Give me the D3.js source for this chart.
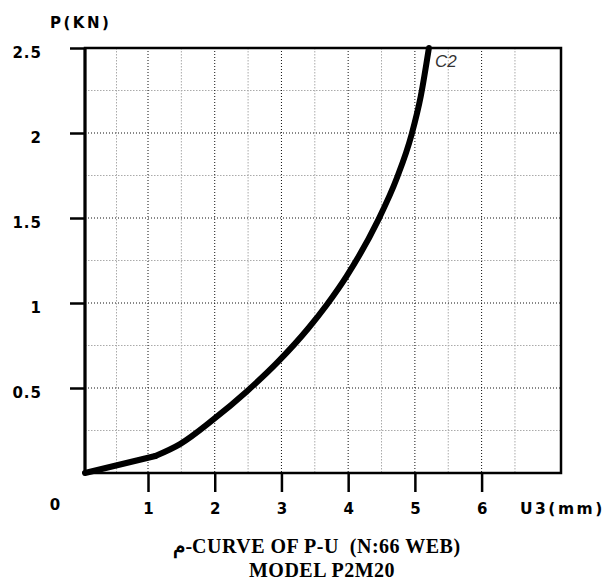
<!DOCTYPE html>
<html>
<head>
<meta charset="utf-8">
<script src="https://cdn.jsdelivr.net/npm/d3@7"></script>
<style>
  body { margin: 0; background: #fff; }
  svg { display: block; }
</style>
</head>
<body>
<script>
// data
var u3 = [0, 1.11, 1.48, 1.98, 2.48, 2.95, 3.40, 3.68, 3.98, 4.44, 4.73, 4.95, 5.09, 5.21];
var pKN = [0, 0.1, 0.17, 0.315, 0.48, 0.655, 0.85, 0.99, 1.16, 1.48, 1.735, 1.99, 2.22, 2.5];
var xTicks = [1, 2, 3, 4, 5, 6];
var xMinor = [0.5, 1.5, 2.5, 3.5, 4.5, 5.5, 6.5];
var yTicks = [0.5, 1, 1.5, 2, 2.5];
var yMinor = [0.25, 0.75, 1.25, 1.75, 2.25];
var yLabels = ["0.5", "1", "1.5", "2", "2.5"];
var seriesName = "C2";
var titleLines = ["\u0645-CURVE OF P-U  (N:66 WEB)", "MODEL P2M20"];

//Set some initial values
var W = 608, H = 581;
var margin = {left: 85, top: 48},
    width = 476,
    height = 425;

var svg = d3.select("body").append("svg")
    .attr("width", W)
    .attr("height", H);

var g = svg.append("g")
    .attr("transform", "translate(" + margin.left + "," + margin.top + ")");

// the original x axis is not quite uniform between 0 and 1
var x = d3.scaleLinear()
    .domain([0, 1, 7.19])
    .range([0, 63, width]);
var y = d3.scaleLinear()
    .domain([0, 2.5])
    .range([height, 0]);

//Grid lines
function vgrid(vals, colour, dash) {
    g.append("g").selectAll("line").data(vals).enter().append("line")
        .attr("x1", function(d) { return x(d); })
        .attr("x2", function(d) { return x(d); })
        .attr("y1", 0).attr("y2", height)
        .attr("stroke", colour).attr("stroke-width", 1)
        .attr("stroke-dasharray", dash);
}
function hgrid(vals, colour, dash) {
    g.append("g").selectAll("line").data(vals).enter().append("line")
        .attr("x1", 0).attr("x2", width)
        .attr("y1", function(d) { return y(d); })
        .attr("y2", function(d) { return y(d); })
        .attr("stroke", colour).attr("stroke-width", 1)
        .attr("stroke-dasharray", dash);
}
vgrid(xMinor, "#aaa", "1.5,1.5");
hgrid(yMinor, "#aaa", "1.5,1.5");
vgrid(xTicks, "#111", "1,2");
hgrid(yTicks.slice(0, 4), "#111", "1,2");

//Axes
var labelFont = "'DejaVu Sans', Verdana, sans-serif";
var xAxis = g.append("g")
    .attr("transform", "translate(0," + height + ")")
    .call(d3.axisBottom(x).tickValues(xTicks).tickSize(19).tickPadding(11));
var yAxis = g.append("g")
    .call(d3.axisLeft(y).tickValues(yTicks).tickSize(15).tickPadding(28)
        .tickFormat(function(d, i) { return yLabels[i]; }));
[xAxis, yAxis].forEach(function(a) {
    a.select(".domain").remove();
    a.selectAll(".tick line")
        .attr("stroke", "#000")
        .attr("stroke-width", 2.5);
    a.selectAll(".tick text")
        .attr("fill", "#000")
        .style("font-family", labelFont)
        .style("font-weight", "bold")
        .style("font-size", "15px");
});
yAxis.selectAll(".tick text").attr("dy", "0.6em").style("letter-spacing", "1px");

//Frame
g.append("rect")
    .attr("x", 0).attr("y", 0)
    .attr("width", width).attr("height", height)
    .attr("fill", "none")
    .attr("stroke", "#000").attr("stroke-width", 2.5);
g.append("line").attr("x1", 0).attr("x2", 0)
    .attr("y1", y(2.5)).attr("y2", y(0))
    .attr("stroke", "#000").attr("stroke-width", 3);

g.append("text")
    .attr("x", -30).attr("y", height + 37)
    .attr("text-anchor", "middle")
    .style("font-family", labelFont)
    .style("font-weight", "bold")
    .style("font-size", "15px")
    .text("0");

//Axis titles
svg.append("text")
    .attr("x", 50).attr("y", 28)
    .style("font-family", labelFont)
    .style("font-weight", "bold")
    .style("font-size", "15px")
    .style("letter-spacing", "2.5px")
    .text("P(KN)");
svg.append("text")
    .attr("x", 520).attr("y", 514)
    .style("font-family", labelFont)
    .style("font-weight", "bold")
    .style("font-size", "15.5px")
    .style("letter-spacing", "2.5px")
    .text("U3(mm)");

//Create the curve: straight first leg, then a smooth rise
var pts = u3.map(function(d, i) { return [d, pKN[i]]; });
var line = d3.line()
    .x(function(d) { return x(d[0]); })
    .y(function(d) { return y(d[1]); });
var curveGroup = g.append("g")
    .attr("fill", "none")
    .attr("stroke", "#000")
    .attr("stroke-width", 6)
    .attr("stroke-linejoin", "round")
    .attr("stroke-linecap", "round");
curveGroup.append("path")
    .datum(pts.slice(0, 2))
    .attr("d", line);
curveGroup.append("path")
    .datum(pts.slice(1))
    .attr("d", line.curve(d3.curveMonotoneX));

g.append("text")
    .attr("x", x(u3[u3.length - 1]) + 6)
    .attr("y", y(2.5) + 19)
    .style("font-family", "'Liberation Sans', Arial, sans-serif")
    .style("font-style", "italic")
    .style("font-size", "17px")
    .attr("fill", "#333")
    .text(seriesName);

//Chart title
svg.selectAll(".title").data(titleLines).enter().append("text")
    .attr("x", function(d, i) { return i === 0 ? 317 : 322; })
    .attr("y", function(d, i) { return 553 + i * 24; })
    .attr("text-anchor", "middle")
    .attr("xml:space", "preserve")
    .style("white-space", "pre")
    .style("font-family", "'Liberation Serif', 'Times New Roman', serif")
    .style("font-weight", "bold")
    .style("font-size", "20px")
    .style("letter-spacing", "0.5px")
    .text(function(d) { return d; });
</script>
</body>
</html>
